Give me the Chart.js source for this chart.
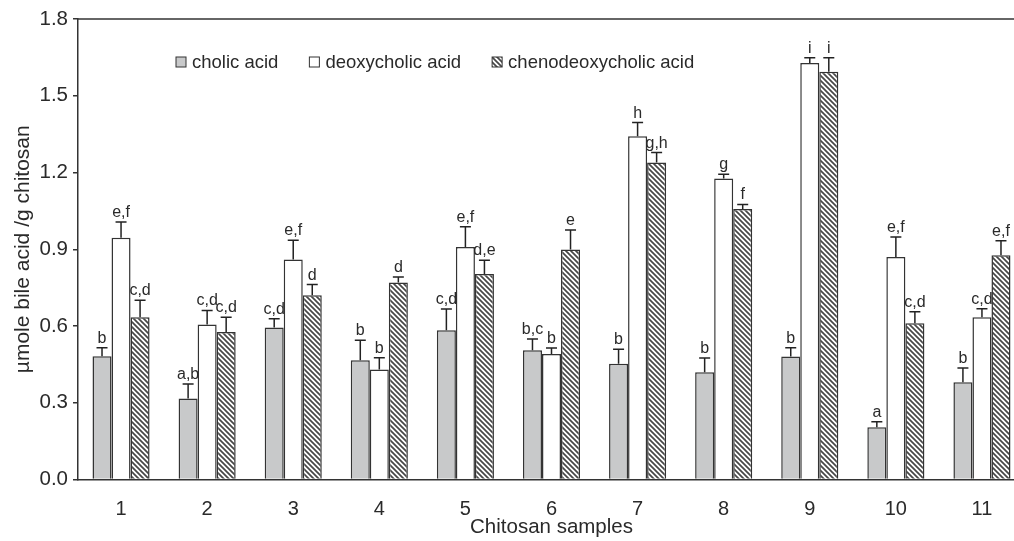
<!DOCTYPE html>
<html>
<head>
<meta charset="utf-8">
<script src="https://cdn.jsdelivr.net/npm/chart.js@4/dist/chart.umd.min.js"></script>
<style>
    html, body {
        margin: 0;
        padding: 0;
        background: #fff;
        overflow: hidden;
    }
    #wrap {
        width: 1040px;
        height: 541px;
    }
</style>
</head>
<body>
<div id="wrap">
    <canvas id="bileChart" width="1040" height="541"></canvas>
</div>
<script>
const samples = ["1", "2", "3", "4", "5", "6", "7", "8", "9", "10", "11"]
const seriesNames = ["cholic acid", "deoxycholic acid", "chenodeoxycholic acid"]

const cholic = [0.482, 0.317, 0.594, 0.466, 0.583, 0.505, 0.452, 0.419, 0.481, 0.204, 0.380]
const deoxycholic = [0.945, 0.606, 0.860, 0.430, 0.909, 0.491, 1.342, 1.177, 1.628, 0.870, 0.634]
const chenodeoxycholic = [0.634, 0.577, 0.720, 0.770, 0.803, 0.899, 1.239, 1.057, 1.594, 0.611, 0.877]

const cholicSd = [0.033, 0.056, 0.034, 0.078, 0.083, 0.044, 0.057, 0.056, 0.034, 0.022, 0.056]
const deoxycholicSd = [0.062, 0.055, 0.075, 0.046, 0.079, 0.023, 0.053, 0.016, 0.021, 0.078, 0.033]
const chenodeoxycholicSd = [0.067, 0.057, 0.042, 0.022, 0.054, 0.076, 0.039, 0.018, 0.055, 0.045, 0.056]

const cholicLetters = ["b", "a,b", "c,d", "b", "c,d", "b,c", "b", "b", "b", "a", "b"]
const deoxycholicLetters = ["e,f", "c,d", "e,f", "b", "e,f", "b", "h", "g", "i", "e,f", "c,d"]
const chenodeoxycholicLetters = ["c,d", "c,d", "d", "d", "d,e", "e", "g,h", "f", "i", "c,d", "e,f"]

const yTicks = [0, 0.3, 0.6, 0.9, 1.2, 1.5, 1.8]

const sdList = [cholicSd, deoxycholicSd, chenodeoxycholicSd]
const letterList = [cholicLetters, deoxycholicLetters, chenodeoxycholicLetters]

const FONT = "'Liberation Sans', Arial, sans-serif"
const INK = "#2a2a2a"

function makeHatch() {
    const size = 5
    const c = document.createElement("canvas")
    c.width = size
    c.height = size
    const p = c.getContext("2d")
    p.fillStyle = "#ffffff"
    p.fillRect(0, 0, size, size)
    p.strokeStyle = "#474747"
    p.lineWidth = 1.7
    p.beginPath()
    p.moveTo(-1, -1)
    p.lineTo(size + 1, size + 1)
    p.moveTo(-1, size - 1)
    p.lineTo(1, size + 1)
    p.moveTo(size - 1, -1)
    p.lineTo(size + 1, 1)
    p.stroke()
    return p.createPattern(c, "repeat")
}

const hatch = makeHatch()
const fills = ["#c8c9ca", "#ffffff", hatch]

// error bars, letters, the legend and the top frame line
const extrasPlugin = {
    id: "extras",
    afterDatasetsDraw(chart) {
        const ctx = chart.ctx
        const yScale = chart.scales.y
        const area = chart.chartArea

        ctx.save()

        // top frame
        ctx.strokeStyle = "#333"
        ctx.lineWidth = 1.5
        ctx.beginPath()
        ctx.moveTo(area.left, area.top)
        ctx.lineTo(area.right, area.top)
        ctx.stroke()

        chart.data.datasets.forEach((ds, i) => {
            const meta = chart.getDatasetMeta(i)
            meta.data.forEach((bar, j) => {
                const value = ds.data[j]
                const topY = yScale.getPixelForValue(value + sdList[i][j])
                ctx.strokeStyle = "#222"
                ctx.lineWidth = 1.5
                ctx.beginPath()
                ctx.moveTo(bar.x, bar.y)
                ctx.lineTo(bar.x, topY)
                ctx.moveTo(bar.x - 5.5, topY)
                ctx.lineTo(bar.x + 5.5, topY)
                ctx.stroke()

                ctx.fillStyle = INK
                ctx.font = "16px " + FONT
                ctx.textAlign = "center"
                ctx.textBaseline = "alphabetic"
                ctx.fillText(letterList[i][j], bar.x, topY - 5)
            })
        })

        // legend inside the plot
        ctx.font = "18.5px " + FONT
        ctx.textAlign = "left"
        ctx.textBaseline = "middle"
        let x = area.left + 98
        const y = area.top + 43
        seriesNames.forEach((name, i) => {
            ctx.fillStyle = fills[i]
            ctx.fillRect(x, y - 5, 10, 10)
            ctx.strokeStyle = "#333"
            ctx.lineWidth = 1
            ctx.strokeRect(x, y - 5, 10, 10)
            ctx.fillStyle = INK
            ctx.fillText(name, x + 16, y + 1)
            x += 16 + ctx.measureText(name).width + 31
        })

        ctx.restore()
    }
}

const chart = new Chart(document.getElementById("bileChart"), {
    type: "bar",
    data: {
        labels: samples,
        datasets: [
            { label: seriesNames[0], data: cholic, backgroundColor: fills[0] },
            { label: seriesNames[1], data: deoxycholic, backgroundColor: fills[1] },
            { label: seriesNames[2], data: chenodeoxycholic, backgroundColor: fills[2] }
        ]
    },
    options: {
        responsive: false,
        animation: false,
        layout: {
            padding: { top: 19, right: 15, left: 0, bottom: 0 }
        },
        datasets: {
            bar: {
                borderColor: "#333",
                borderWidth: 1.5,
                barPercentage: 1,
                categoryPercentage: 0.663
            }
        },
        plugins: {
            legend: { display: false },
            tooltip: { enabled: false }
        },
        scales: {
            x: {
                grid: { display: false },
                border: { display: true, color: "#333", width: 1.5 },
                ticks: {
                    color: INK,
                    padding: 10,
                    font: { family: FONT, size: 20 }
                },
                title: {
                    display: true,
                    text: "Chitosan samples",
                    color: INK,
                    padding: { top: 0, bottom: 1 },
                    font: { family: FONT, size: 20.5 }
                },
                afterFit(scale) {
                    scale.height = 61.5
                }
            },
            y: {
                min: 0,
                max: 1.8,
                afterBuildTicks(scale) {
                    scale.ticks = yTicks.map(v => ({ value: v }))
                },
                grid: {
                    display: true,
                    drawOnChartArea: false,
                    drawTicks: true,
                    tickLength: 5,
                    tickColor: "#333",
                    lineWidth: 1.5
                },
                border: { display: true, color: "#333", width: 1.5 },
                ticks: {
                    color: INK,
                    padding: 5,
                    font: { family: FONT, size: 20.5 },
                    callback: v => Number(v).toFixed(1)
                },
                title: {
                    display: true,
                    text: "µmole bile acid /g chitosan",
                    color: INK,
                    padding: { top: 11, bottom: 0 },
                    font: { family: FONT, size: 21 }
                },
                afterFit(scale) {
                    scale.width = 78
                }
            }
        }
    },
    plugins: [extrasPlugin]
})
</script>
</body>
</html>
